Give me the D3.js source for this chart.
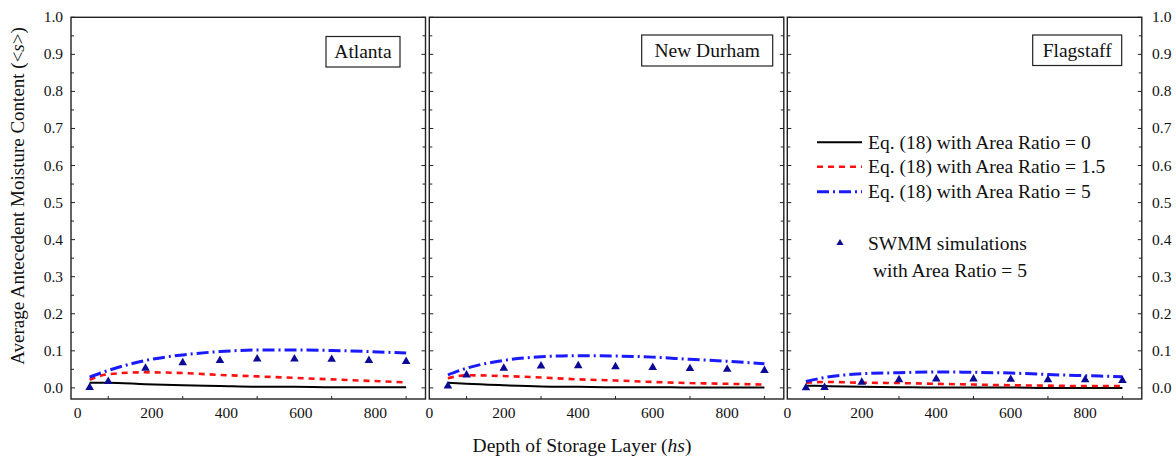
<!DOCTYPE html>
<meta charset="utf-8">
<style>
  body { margin: 0; background: #fff; }
  svg { display: block; }
  text { font-family: "Liberation Serif", "Times New Roman", serif; fill: #111; }
  .frame { fill: none; stroke: #222; stroke-width: 1.4; }
  .tick { stroke: #222; stroke-width: 1; }
</style>
<body>
<script src="https://cdn.jsdelivr.net/npm/d3@7"></script>
<script>
// depth of storage layer (hs)
const depths = [50, 100, 200, 300, 400, 500, 600, 700, 800, 900];
const cities = ['Atlanta', 'New Durham', 'Flagstaff'];

// Eq. (18), area ratio = 0
const ratio0 = [
  [0.014, 0.014, 0.010, 0.007, 0.005, 0.003, 0.003, 0.002, 0.002, 0.002],
  [0.014, 0.011, 0.007, 0.004, 0.003, 0.002, 0.002, 0.001, 0.001, 0.001],
  [0.006, 0.005, 0.003, 0.002, 0.001, 0.001, 0.001, 0.000, 0.000, 0.000]
];
// Eq. (18), area ratio = 1.5
const ratio15 = [
  [0.022, 0.037, 0.042, 0.040, 0.035, 0.031, 0.027, 0.023, 0.019, 0.015],
  [0.026, 0.034, 0.032, 0.028, 0.023, 0.020, 0.016, 0.013, 0.011, 0.009],
  [0.014, 0.016, 0.014, 0.013, 0.011, 0.009, 0.007, 0.006, 0.005, 0.005]
];
// Eq. (18), area ratio = 5
const ratio5 = [
  [0.029, 0.047, 0.074, 0.089, 0.098, 0.102, 0.102, 0.101, 0.098, 0.094],
  [0.035, 0.053, 0.074, 0.084, 0.087, 0.086, 0.083, 0.077, 0.072, 0.065],
  [0.017, 0.028, 0.038, 0.041, 0.043, 0.042, 0.040, 0.036, 0.033, 0.030]
];
// SWMM simulations, area ratio = 5
const swmm = [
  [0.001, 0.017, 0.053, 0.068, 0.074, 0.078, 0.078, 0.077, 0.074, 0.071],
  [0.005, 0.035, 0.053, 0.059, 0.060, 0.057, 0.055, 0.052, 0.050, 0.047],
  [0.000, 0.001, 0.015, 0.022, 0.024, 0.024, 0.023, 0.022, 0.022, 0.020]
];

const xLabels = [0, 200, 400, 600, 800];
const xTickVals = [100, 300, 500, 700, 900];
const yLabels = [0, 0.1, 0.2, 0.3, 0.4, 0.5, 0.6, 0.7, 0.8, 0.9, 1.0];

const legendItems = [
  'Eq. (18) with Area Ratio = 0',
  'Eq. (18) with Area Ratio = 1.5',
  'Eq. (18) with Area Ratio = 5'
];

// layout
const W = 1176, H = 459;
const panelLeft = [71, 429.3, 787.3];
const panelW = 354.5;
const plotTop = 17.3, plotBottom = 399;
const labelShift = [6.5, 0, 0];
const boxes = [
  {x: 326, y: 36.5, w: 74, h: 30.5},
  {x: 641.7, y: 35, w: 131, h: 31},
  {x: 1032.7, y: 35, w: 89, h: 30.5}
];

const styles = [
  {color: '#000', width: 2, dash: null},
  {color: '#ff1010', width: 2.6, dash: '6,5'},
  {color: '#1a1aff', width: 3, dash: '12,4,2,4'}
];
const triColor = '#0a0a96';

const svg = d3.select('body').append('svg')
  .attr('width', W)
  .attr('height', H);

const y = d3.scaleLinear().domain([-0.03, 1.0]).range([plotBottom, plotTop]);
const minorY = d3.range(0, 1.0001, 0.05);

const series = [ratio0, ratio15, ratio5];

cities.forEach((city, i) => {
  const x = d3.scaleLinear().domain([0, 952]).range([panelLeft[i], panelLeft[i] + panelW]);
  const g = svg.append('g');

  // y ticks, inward on both sides
  minorY.forEach(v => {
    const major = Math.abs(v * 10 - Math.round(v * 10)) < 1e-6;
    const len = major ? 4 : 3;
    g.append('line').attr('class', 'tick')
      .attr('x1', x.range()[0]).attr('x2', x.range()[0] + len)
      .attr('y1', y(v)).attr('y2', y(v));
    g.append('line').attr('class', 'tick')
      .attr('x1', x.range()[1]).attr('x2', x.range()[1] - len)
      .attr('y1', y(v)).attr('y2', y(v));
  });

  // x ticks
  xTickVals.forEach(v => {
    g.append('line').attr('class', 'tick')
      .attr('x1', x(v)).attr('x2', x(v))
      .attr('y1', plotBottom).attr('y2', plotBottom - 3);
  });

  g.selectAll('.xl').data(xLabels).enter().append('text')
    .attr('x', d => x(d) + labelShift[i])
    .attr('y', 418)
    .attr('text-anchor', 'middle')
    .style('font-size', '15.5px')
    .text(d => d);

  // curves
  const line = d3.line()
    .x((d, j) => x(depths[j]))
    .y(d => y(d))
    .curve(d3.curveMonotoneX);

  series.forEach((s, k) => {
    g.append('path')
      .attr('d', line(s[i]))
      .attr('fill', 'none')
      .attr('stroke', styles[k].color)
      .attr('stroke-width', styles[k].width)
      .attr('stroke-dasharray', styles[k].dash);
  });

  g.selectAll('.tri').data(swmm[i]).enter().append('path')
    .attr('d', d3.symbol(d3.symbolTriangle, 32))
    .attr('transform', (d, j) => `translate(${x(depths[j])},${y(d)})`)
    .attr('fill', triColor);

  g.append('rect').attr('class', 'frame')
    .attr('x', x.range()[0]).attr('y', plotTop)
    .attr('width', panelW).attr('height', plotBottom - plotTop);

  // city label
  const b = boxes[i];
  g.append('rect')
    .attr('x', b.x).attr('y', b.y).attr('width', b.w).attr('height', b.h)
    .attr('fill', '#fff').attr('stroke', '#222').attr('stroke-width', 1.2);
  g.append('text')
    .attr('x', b.x + b.w / 2).attr('y', b.y + b.h / 2 + 6.5)
    .attr('text-anchor', 'middle')
    .style('font-size', '19.5px')
    .text(city);
});

// y tick labels left and right
svg.selectAll('.yl').data(yLabels).enter().append('text')
  .attr('x', 63).attr('y', d => y(d) + 5)
  .attr('text-anchor', 'end')
  .style('font-size', '15.5px')
  .text(d => d.toFixed(1));
svg.selectAll('.yr').data(yLabels).enter().append('text')
  .attr('x', 1152).attr('y', d => y(d) + 5)
  .attr('text-anchor', 'start')
  .style('font-size', '15.5px')
  .text(d => d.toFixed(1));

// axis titles
const xt = svg.append('text')
  .attr('x', 582).attr('y', 452)
  .attr('text-anchor', 'middle')
  .style('font-size', '19.5px');
xt.append('tspan').text('Depth of Storage Layer (');
xt.append('tspan').style('font-style', 'italic').text('hs');
xt.append('tspan').text(')');

const yt = svg.append('text')
  .attr('transform', 'translate(24,196) rotate(-90)')
  .attr('text-anchor', 'middle')
  .style('font-size', '19px');
yt.append('tspan').text('Average Antecedent Moisture Content (<');
yt.append('tspan').style('font-style', 'italic').text('s');
yt.append('tspan').text('>)');

// legend
const lg = svg.append('g');
legendItems.forEach((t, k) => {
  const ly = [142.3, 166.7, 191.7][k];
  lg.append('line')
    .attr('x1', 817).attr('x2', 862).attr('y1', ly).attr('y2', ly)
    .attr('stroke', styles[k].color)
    .attr('stroke-width', styles[k].width)
    .attr('stroke-dasharray', styles[k].dash);
  lg.append('text')
    .attr('x', 868).attr('y', ly + 6.5)
    .style('font-size', '19.5px')
    .text(t);
});
lg.append('path')
  .attr('d', d3.symbol(d3.symbolTriangle, 22))
  .attr('transform', 'translate(840,243)')
  .attr('fill', triColor);
lg.append('text').attr('x', 868).attr('y', 249.5)
  .style('font-size', '19.5px').text('SWMM simulations');
lg.append('text').attr('x', 873).attr('y', 276.5)
  .style('font-size', '19.5px').text('with Area Ratio = 5');
</script>
</body>
</html>
